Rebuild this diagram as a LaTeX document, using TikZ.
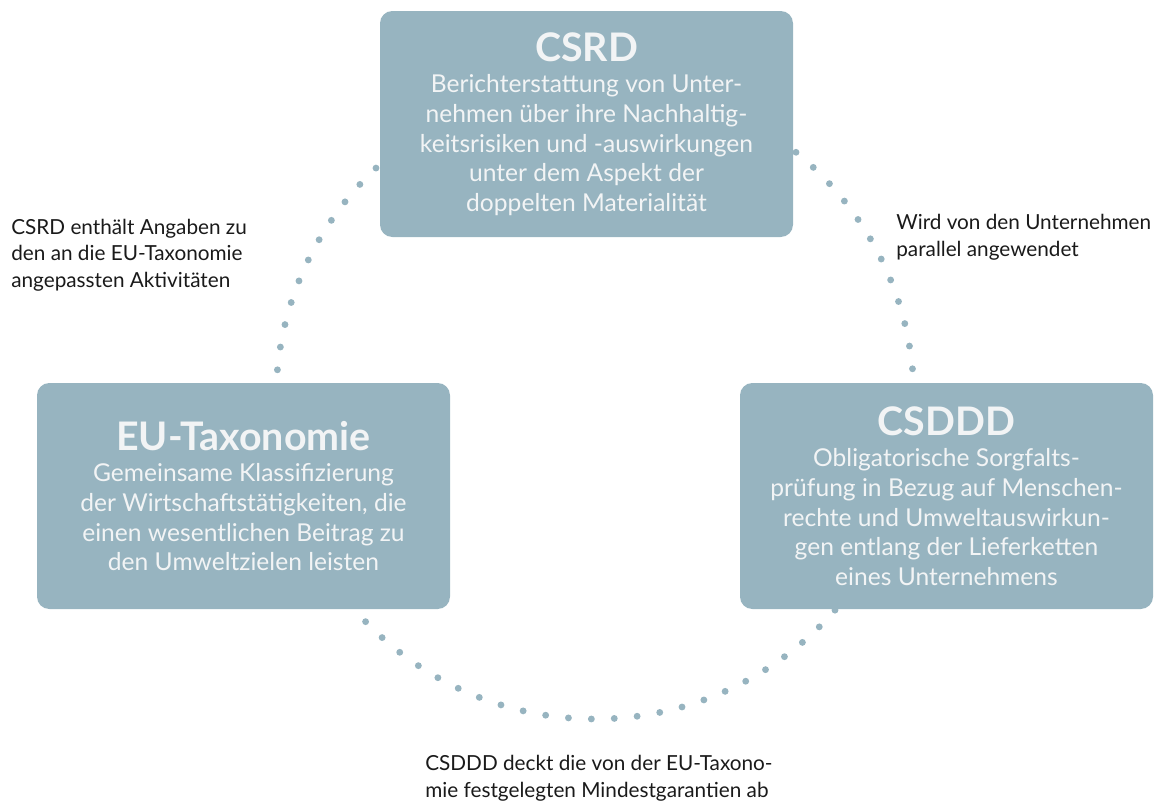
\documentclass[tikz,border=0pt]{standalone}
\usepackage{fontspec}
\setmainfont{Lato}
\usepackage{tikz}

\definecolor{boxblue}{RGB}{151,180,192}
\definecolor{boxtext}{RGB}{242,244,245}
\definecolor{labeltext}{RGB}{26,26,26}

\newcommand{\regname}[1]{{\bfseries\fontsize{22.4}{30}\selectfont #1}}

\begin{document}
\begin{tikzpicture}[x=0.02cm,y=-0.02cm,
  regbox/.style={fill=boxblue,rounded corners=7pt,minimum width=413*0.02cm,
    minimum height=226*0.02cm,align=center,text=boxtext,inner sep=0pt,
    font=\fontsize{14}{16.9}\selectfont},
  sidelabel/.style={anchor=west,align=left,text=labeltext,inner sep=0pt,
    font=\fontsize{11.8}{15.2}\selectfont}]
\useasboundingbox (0,0) rectangle (1156,805);

% dotted ring behind the boxes
\coordinate (ring) at (595,400);
\draw[boxblue,line width=3.9pt,line cap=round,dash pattern=on 0pt off 13.06pt]
  (ring) circle[radius=319];

% the three regulations
\node[regbox] (csrd) at (586.5,124) {\regname{CSRD}\\[1pt]
  Berichterstattung von Unter-\\
  nehmen über ihre Nachhaltig-\\
  keitsrisiken und -auswirkungen\\
  unter dem Aspekt der\\
  doppelten Materialität};
\node[regbox] (eutax) at (243.5,496) {\regname{EU-Taxonomie}\\[1pt]
  Gemeinsame Klassifizierung\\
  der Wirtschaftstätigkeiten, die\\
  einen wesentlichen Beitrag zu\\
  den Umweltzielen leisten};
\node[regbox] (csddd) at (946.5,496) {\regname{CSDDD}\\[1pt]
  Obligatorische Sorgfalts-\\
  prüfung in Bezug auf Menschen-\\
  rechte und Umweltauswirkun-\\
  gen entlang der Lieferketten\\
  eines Unternehmens};

% relations
\node[sidelabel] (leftnote) at (11,255) {CSRD enthält Angaben zu\\
  den an die EU-Taxonomie\\
  angepassten Aktivitäten};
\node[sidelabel] (rightnote) at (896,237) {Wird von den Unternehmen\\
  parallel angewendet};
\node[sidelabel] (bottomnote) at (425,778) {CSDDD deckt die von der EU-Taxono-\\
  mie festgelegten Mindestgarantien ab};
\end{tikzpicture}
\end{document}
